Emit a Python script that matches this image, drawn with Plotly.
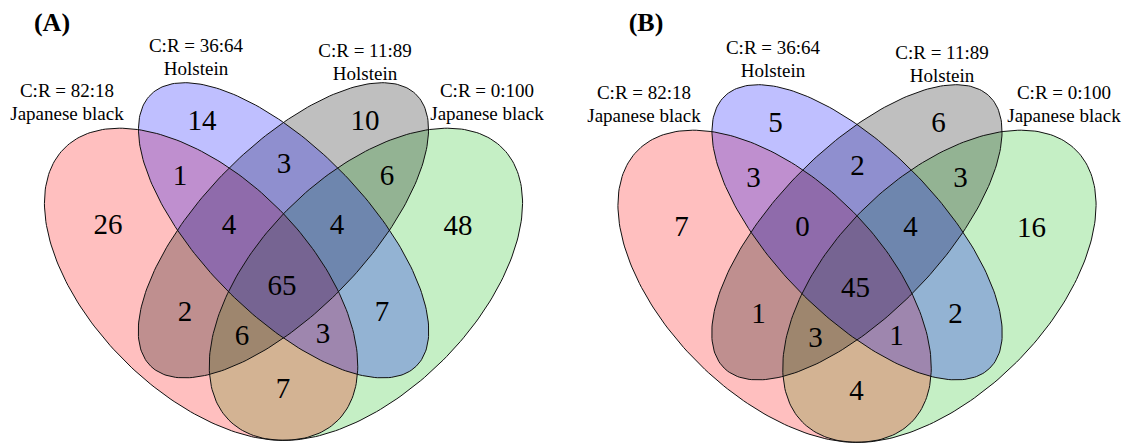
import numpy as np
import plotly.graph_objects as go

# ---------------- data ----------------
set_names = ["C:R = 82:18", "C:R = 36:64", "C:R = 11:89", "C:R = 0:100"]
set_breeds = ["Japanese black", "Holstein", "Holstein", "Japanese black"]
panel_titles = ["(A)", "(B)"]
region_keys = ["R", "B", "G", "Gr", "RB", "BG", "GGr", "RGr",
               "RBG", "BGGr", "RBGGr", "RG", "BGr", "RGGr", "RBGr"]
values_A = [26, 14, 10, 48, 1, 3, 6, 7, 4, 4, 65, 2, 7, 6, 3]
values_B = [7, 5, 6, 16, 3, 2, 3, 4, 0, 4, 45, 1, 2, 3, 1]

# ---------------- layout (pixel geometry) ----------------
X0 = 283.5  # symmetry axis of panel A
# ellipse: centre x, centre y, semi-major, semi-minor, rotation (deg, clockwise on screen)
red_e = (201.1, 284.3, 192.9, 108.2, 44.8)
blue_e = (283.6, 230.3, 189.9, 82.4, 45.7)
ell = {
    "R": red_e,
    "B": blue_e,
    "G": (2*X0 - blue_e[0], blue_e[1], blue_e[2], blue_e[3], 180 - blue_e[4]),
    "Gr": (2*X0 - red_e[0], red_e[1], red_e[2], red_e[3], 180 - red_e[4]),
}
fills = {"Gr": "rgba(24,190,24,0.25)", "R": "rgba(255,0,0,0.25)",
         "G": "rgba(0,0,0,0.25)", "B": "rgba(0,0,255,0.25)"}
draw_order = ["Gr", "R", "G", "B"]

TY = 1  # vertical correction for text anchor
region_pos = {"R": (108,226), "B": (202,122), "G": (365,122), "Gr": (458,227),
              "RB": (180,177), "BG": (284,165), "GGr": (387,177), "RGr": (283,390),
              "RBG": (229,226), "BGGr": (337,226), "RBGGr": (282,287), "RG": (185,313),
              "BGr": (382,313), "RGGr": (242,337), "RBGr": (323,335)}
label_pos = [(67,91), (196,46), (365,51), (487,91)]
title_pos = [(52, 23), (646, 23)]
panels = [(0.0, 0.0, values_A, 0, 0), (573.5, 2.0, values_B, 577, 2)]

def ellipse_xy(cx, cy, a, b, ang, n=240):
    t = np.linspace(0, 2*np.pi, n)
    th = np.radians(ang)
    x = cx + a*np.cos(t)*np.cos(th) - b*np.sin(t)*np.sin(th)
    y = cy + a*np.cos(t)*np.sin(th) + b*np.sin(t)*np.cos(th)
    return x, y

fig = go.Figure()
serif = "Liberation Serif, Times New Roman, serif"
for pi, (dx, dy, vals, ldx, ldy) in enumerate(panels):
    for k in draw_order:
        cx, cy, a, b, ang = ell[k]
        x, y = ellipse_xy(cx + dx, cy + dy, a, b, ang)
        fig.add_trace(go.Scatter(x=x, y=y, mode="lines", fill="toself", fillcolor=fills[k],
                                 line=dict(width=0), hoverinfo="skip", showlegend=False))
    for k in draw_order:
        cx, cy, a, b, ang = ell[k]
        x, y = ellipse_xy(cx + dx, cy + dy, a, b, ang)
        fig.add_trace(go.Scatter(x=x, y=y, mode="lines", line=dict(color="#111111", width=1),
                                 hoverinfo="skip", showlegend=False))
    fig.add_trace(go.Scatter(
        x=[region_pos[k][0] + dx for k in region_keys],
        y=[region_pos[k][1] + dy + TY for k in region_keys],
        text=[str(v) for v in vals], mode="text", cliponaxis=False,
        textfont=dict(family=serif, size=29, color="black"),
        hoverinfo="skip", showlegend=False))
    fig.add_trace(go.Scatter(
        x=[p[0] + ldx for p in label_pos] * 2,
        y=[p[1] + ldy + TY for p in label_pos] + [p[1] + ldy + 23 + TY for p in label_pos],
        text=set_names + set_breeds, mode="text", cliponaxis=False,
        textfont=dict(family=serif, size=19, color="black"),
        hoverinfo="skip", showlegend=False))
    fig.add_trace(go.Scatter(
        x=[title_pos[pi][0]], y=[title_pos[pi][1] + TY], text=["<b>" + panel_titles[pi] + "</b>"],
        mode="text", cliponaxis=False, textfont=dict(family=serif, size=26, color="black"),
        hoverinfo="skip", showlegend=False))

fig.update_layout(width=1130, height=443, margin=dict(l=0, r=0, t=0, b=0),
                  paper_bgcolor="white", plot_bgcolor="white",
                  xaxis=dict(range=[0, 1130], visible=False),
                  yaxis=dict(range=[443, 0], visible=False))
fig.write_html("out.html", config={"displayModeBar": False},
               post_script="document.body.style.margin='0';document.body.style.overflow='hidden';")
